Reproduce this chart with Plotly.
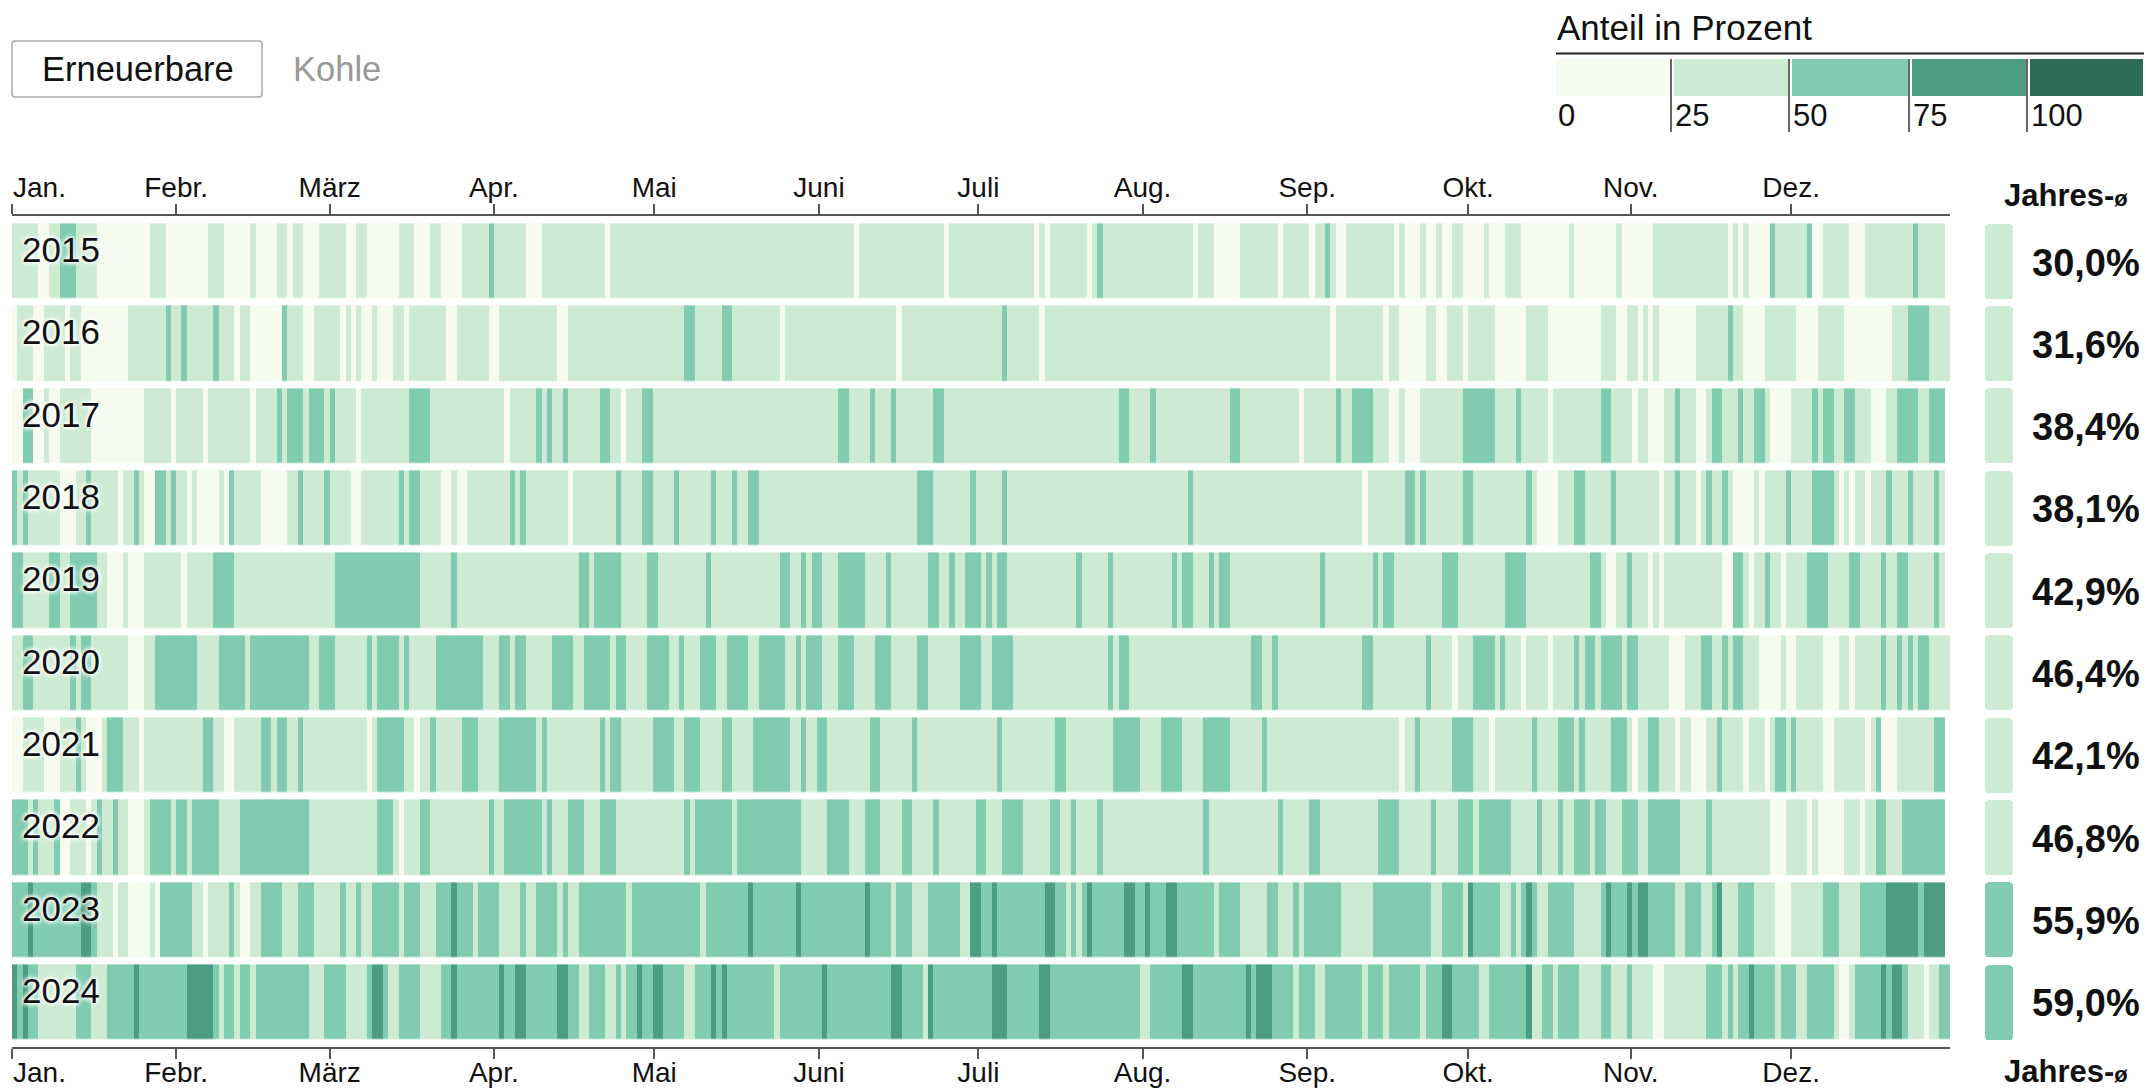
import plotly.graph_objects as go

W, H = 2146, 1089
FONT = "Liberation Sans"

years = ["2015", "2016", "2017", "2018", "2019", "2020", "2021", "2022", "2023", "2024"]
yearly_mean = [30.0, 31.6, 38.4, 38.1, 42.9, 46.4, 42.1, 46.8, 55.9, 59.0]
month_days = [0, 31, 60, 91, 121.3, 152.4, 182.5, 213.5, 244.6, 275, 305.7, 336]
month_labels = ["Jan.", "Febr.", "März", "Apr.", "Mai", "Juni", "Juli", "Aug.", "Sep.", "Okt.", "Nov.", "Dez."]
legend_labels = ["0", "25", "50", "75", "100"]
bucket_colors = ["#f6fbef", "#cdebd2", "#81ccb1", "#4d9c84", "#2d6a58"]

# (share bucket, last day of the run); bucket 0 = 0-25 %, 1 = 25-50 %, ...
y2015 = [(1,5),(0,7),(1,9),(2,12),(1,16),(0,26),(1,29),(0,37),(1,40),(0,45),(1,46),(0,50),(1,52),(0,53),(1,55),(0,58),(1,63),(0,65),(1,67),(0,73),(1,76),(0,79),(1,81),(0,85),(1,90),(2,91),(1,97),(0,100),(1,112),(0,113),(1,159),(0,160),(1,176),(0,177),(1,193),(0,194),(1,195),(0,196),(1,203),(0,204),(1,205),(2,206),(1,223),(0,224),(1,227),(0,232),(1,239),(0,240),(1,245),(0,246),(1,248),(2,249),(1,250),(0,252),(1,261),(0,262),(1,263),(0,266),(1,267),(0,269),(1,270),(0,272),(1,274),(0,278),(1,279),(0,282),(1,285),(0,294),(1,295),(0,303),(1,304),(0,310),(1,324),(0,325),(1,326),(0,327),(1,328),(0,332),(2,333),(1,339),(2,340),(0,342),(1,347),(0,350),(1,359),(2,360),(1,365)]
y2016 = [(0,1),(1,4),(0,6),(1,10),(0,11),(1,13),(0,22),(1,29),(2,30),(1,32),(2,33),(1,38),(2,39),(1,42),(0,43),(1,45),(0,51),(2,52),(1,55),(0,57),(1,62),(0,63),(1,64),(0,65),(1,66),(0,68),(1,69),(0,72),(1,74),(0,75),(1,82),(0,84),(1,90),(0,92),(1,103),(0,105),(1,127),(2,129),(1,134),(2,136),(1,145),(0,146),(1,167),(0,168),(1,187),(2,188),(1,194),(0,195),(1,249),(0,250),(1,259),(0,260),(1,262),(0,267),(1,269),(0,271),(1,274),(0,275),(1,280),(0,286),(1,290),(0,300),(1,303),(0,305),(1,307),(0,308),(1,309),(0,310),(1,311),(0,318),(1,324),(2,325),(1,327),(0,331),(1,337),(0,341),(1,346),(0,355),(1,358),(2,362),(1,366)]
y2017 = [(0,2),(2,4),(0,6),(1,7),(0,9),(1,15),(0,25),(1,30),(0,31),(1,36),(0,37),(1,45),(0,46),(1,50),(2,51),(1,52),(2,55),(1,56),(2,59),(1,60),(2,61),(1,65),(0,66),(1,75),(2,79),(1,93),(0,94),(1,99),(2,100),(1,101),(2,102),(1,104),(2,105),(1,111),(2,113),(1,115),(0,116),(1,119),(2,121),(1,156),(2,158),(1,162),(2,163),(1,166),(2,167),(1,174),(2,176),(1,209),(2,211),(1,215),(2,216),(1,230),(2,232),(1,243),(0,244),(1,250),(2,251),(1,253),(2,257),(1,260),(0,262),(1,263),(0,266),(1,274),(2,280),(1,284),(2,285),(1,290),(0,291),(1,300),(2,302),(1,306),(0,307),(1,309),(0,312),(1,314),(2,315),(1,318),(0,320),(1,321),(2,323),(1,326),(2,327),(1,329),(2,331),(1,332),(0,336),(1,340),(2,341),(1,342),(2,344),(1,346),(2,348),(1,351),(0,354),(1,356),(2,360),(1,362),(2,365)]
y2018 = [(2,1),(1,2),(2,3),(1,9),(0,12),(1,14),(2,15),(1,20),(0,21),(1,23),(2,24),(1,25),(0,27),(2,29),(1,30),(2,31),(1,33),(0,34),(1,35),(0,39),(1,40),(0,41),(2,42),(1,47),(0,52),(1,54),(2,55),(1,59),(2,60),(1,64),(0,66),(1,73),(2,74),(1,75),(2,77),(1,81),(0,83),(1,84),(0,86),(1,94),(2,95),(1,96),(2,97),(1,105),(0,106),(1,114),(2,115),(1,119),(2,121),(1,125),(2,126),(1,132),(2,133),(1,136),(2,137),(1,139),(2,141),(1,171),(2,174),(1,181),(2,182),(1,187),(2,188),(1,222),(2,223),(1,255),(0,256),(1,263),(2,265),(1,266),(2,267),(1,274),(2,276),(1,286),(2,287),(1,288),(0,292),(1,295),(2,297),(1,302),(2,303),(1,311),(0,312),(1,314),(2,315),(1,318),(0,319),(1,320),(2,321),(1,323),(2,324),(1,325),(0,329),(1,330),(0,331),(1,335),(2,336),(1,340),(2,344),(1,345),(0,346),(1,347),(0,348),(1,350),(0,351),(1,354),(2,355),(1,358),(2,359),(1,363),(2,364),(1,365)]
y2019 = [(2,2),(1,7),(2,9),(1,11),(2,16),(1,18),(0,21),(1,22),(0,25),(1,32),(0,33),(1,38),(2,42),(1,61),(2,77),(1,83),(2,84),(1,107),(2,109),(1,110),(2,115),(1,120),(2,122),(1,131),(2,132),(1,145),(2,147),(1,149),(2,150),(1,151),(2,153),(1,156),(2,161),(1,165),(2,166),(1,173),(2,175),(1,177),(2,178),(1,180),(2,183),(1,184),(2,185),(1,186),(2,188),(1,201),(2,202),(1,207),(2,208),(1,219),(2,220),(1,221),(2,223),(1,226),(2,227),(1,228),(2,230),(1,247),(2,248),(1,257),(2,258),(1,259),(2,261),(1,270),(2,273),(1,282),(2,286),(1,298),(2,300),(1,301),(0,303),(1,305),(2,306),(1,309),(0,310),(1,311),(0,312),(1,323),(0,325),(2,327),(1,328),(0,329),(1,331),(2,332),(1,334),(0,335),(1,339),(2,343),(1,347),(2,349),(1,353),(2,354),(1,356),(2,358),(1,363),(2,364),(1,365)]
y2020 = [(1,2),(2,4),(1,11),(2,12),(1,13),(2,15),(1,22),(0,25),(1,27),(2,35),(1,39),(2,44),(1,45),(2,56),(1,58),(2,61),(1,67),(2,68),(1,69),(2,73),(1,74),(2,75),(1,80),(2,89),(1,92),(2,94),(1,95),(2,97),(1,102),(2,106),(1,108),(2,113),(1,114),(2,116),(1,120),(2,124),(1,126),(2,127),(1,130),(2,133),(1,135),(2,139),(1,141),(2,146),(1,148),(2,149),(1,150),(2,153),(1,156),(2,159),(1,163),(2,166),(1,171),(2,173),(1,179),(2,183),(1,185),(2,189),(1,207),(2,208),(1,209),(2,211),(1,234),(2,236),(1,238),(2,239),(1,255),(2,257),(1,267),(2,268),(1,272),(0,273),(1,276),(2,280),(1,281),(2,282),(1,285),(0,286),(1,290),(0,291),(1,295),(2,296),(1,297),(2,299),(1,300),(2,304),(1,305),(2,307),(1,313),(0,316),(1,319),(2,321),(1,323),(2,324),(1,325),(2,327),(1,330),(0,334),(1,335),(0,337),(1,342),(0,345),(1,347),(0,348),(1,353),(2,354),(1,356),(2,357),(1,358),(2,359),(1,360),(2,362),(1,366)]
y2021 = [(0,2),(1,6),(0,9),(1,12),(2,13),(1,14),(0,17),(1,18),(2,21),(1,24),(0,25),(1,36),(2,38),(1,40),(0,42),(1,47),(2,49),(1,50),(2,52),(1,54),(2,55),(1,67),(0,68),(1,69),(2,74),(1,76),(0,77),(1,79),(2,80),(1,85),(2,88),(1,92),(2,99),(1,100),(2,101),(1,111),(2,112),(1,113),(2,115),(1,121),(2,125),(1,127),(2,130),(1,134),(2,136),(1,140),(2,147),(1,149),(2,150),(1,152),(2,154),(1,162),(2,164),(1,170),(2,171),(1,186),(2,187),(1,197),(2,199),(1,208),(2,213),(1,217),(2,221),(1,225),(2,230),(1,236),(2,237),(1,262),(0,263),(1,265),(2,266),(1,272),(2,276),(1,279),(0,280),(1,287),(2,288),(1,292),(2,295),(1,296),(2,297),(1,302),(2,305),(1,306),(0,307),(1,309),(2,311),(1,314),(0,315),(1,317),(0,320),(1,322),(2,323),(1,327),(0,328),(1,331),(0,332),(1,333),(2,335),(1,336),(2,337),(1,342),(0,344),(1,350),(0,351),(1,352),(2,353),(0,356),(1,363),(2,365)]
y2022 = [(2,3),(1,4),(2,5),(1,8),(2,9),(0,11),(1,14),(0,15),(1,16),(2,17),(1,19),(2,20),(1,22),(0,25),(1,26),(2,30),(1,31),(2,33),(1,34),(2,39),(1,43),(2,56),(1,69),(2,72),(1,73),(0,74),(1,77),(2,79),(1,90),(2,91),(1,93),(2,100),(1,101),(2,102),(1,105),(2,108),(1,111),(2,114),(1,127),(2,128),(1,129),(2,136),(1,137),(2,149),(1,154),(2,158),(1,161),(2,164),(1,168),(2,170),(1,174),(2,175),(1,182),(2,184),(1,187),(2,191),(1,196),(2,198),(1,200),(2,201),(1,205),(2,206),(1,225),(2,226),(1,239),(2,240),(1,245),(2,247),(1,258),(2,262),(1,268),(2,269),(1,273),(2,276),(1,277),(2,283),(1,288),(2,289),(1,292),(2,293),(1,295),(2,298),(1,299),(2,301),(1,304),(2,307),(1,309),(2,315),(1,320),(2,321),(1,332),(0,335),(1,339),(0,340),(1,341),(0,346),(1,349),(0,350),(1,352),(2,354),(1,357),(2,365)]
y2023 = [(2,3),(3,4),(2,13),(3,15),(2,16),(1,19),(0,20),(1,22),(0,26),(1,27),(0,28),(2,34),(1,36),(0,37),(1,41),(2,42),(1,43),(0,45),(1,47),(2,51),(1,54),(2,57),(1,62),(2,63),(1,65),(2,66),(1,68),(2,73),(1,74),(2,77),(1,80),(2,83),(3,84),(2,87),(1,88),(2,92),(1,96),(2,97),(1,99),(2,103),(1,104),(2,105),(1,107),(2,116),(1,117),(2,130),(1,131),(2,139),(3,140),(2,148),(3,149),(2,161),(3,162),(2,166),(1,167),(2,170),(1,173),(2,179),(1,181),(3,183),(2,185),(3,186),(2,195),(3,197),(2,199),(1,200),(2,201),(1,202),(2,203),(3,204),(2,210),(3,212),(2,214),(3,215),(2,218),(3,220),(2,227),(1,228),(2,232),(1,237),(2,239),(1,242),(2,243),(1,244),(2,251),(1,257),(2,268),(1,270),(2,274),(1,275),(3,276),(2,281),(1,283),(2,284),(1,285),(2,286),(3,287),(2,288),(1,290),(2,295),(1,300),(2,301),(3,302),(2,305),(3,306),(2,307),(3,309),(2,314),(1,316),(2,319),(1,321),(2,322),(3,323),(1,326),(2,329),(1,333),(0,336),(1,342),(2,345),(1,349),(2,354),(3,360),(2,361),(3,365)]
y2024 = [(3,1),(2,2),(3,3),(2,5),(1,12),(2,15),(1,18),(2,23),(3,24),(2,33),(3,38),(2,39),(1,40),(2,42),(1,43),(2,45),(1,46),(2,56),(1,59),(2,63),(1,67),(2,68),(3,70),(2,71),(1,73),(2,77),(1,81),(2,83),(3,84),(2,92),(3,93),(2,95),(3,97),(2,103),(3,105),(2,107),(1,109),(2,112),(1,114),(2,115),(1,116),(2,118),(3,119),(2,121),(3,123),(2,127),(1,129),(2,132),(3,133),(2,134),(3,135),(2,144),(1,145),(2,153),(3,154),(2,166),(3,168),(2,172),(1,173),(3,174),(2,185),(3,188),(2,194),(3,196),(2,213),(1,215),(2,221),(3,223),(2,233),(3,234),(2,235),(3,238),(2,242),(1,243),(2,246),(1,248),(2,255),(1,256),(2,259),(1,260),(2,266),(1,267),(2,270),(3,272),(2,277),(1,279),(2,286),(3,287),(1,289),(2,291),(1,292),(2,296),(1,300),(2,302),(1,305),(2,306),(1,310),(0,312),(1,320),(2,323),(1,324),(2,325),(1,326),(2,328),(3,329),(2,333),(1,334),(2,337),(1,339),(2,344),(1,345),(0,347),(1,348),(2,353),(3,354),(2,355),(3,357),(2,358),(1,361),(0,362),(1,364),(2,366)]
runs_by_year = [y2015, y2016, y2017, y2018, y2019, y2020, y2021, y2022, y2023, y2024]


def days_from_runs(runs):
    row = [None] * 366
    start = 0
    for bucket, end in runs:
        for d in range(start, end):
            row[d] = bucket
        start = end
    return row


def px(x):
    return x / W


def py(y):
    return 1 - y / H


z = [days_from_runs(r) for r in runs_by_year]
day_centers = [d + 0.5 for d in range(366)]
steps = []
for i, c in enumerate(bucket_colors):
    steps += [[i / 5, c], [(i + 1) / 5, c]]
mean_colors = [bucket_colors[int(v // 25)] for v in yearly_mean]

ROW_TOP, ROW_PITCH, ROW_H = 224, 82.33, 75
top = ROW_TOP - (ROW_PITCH - ROW_H) / 2
bottom = top + 10 * ROW_PITCH
X0, X1 = 12, 1950
AX = dict(domain=[px(X0), px(X1)], range=[0, 366], anchor="free", tickmode="array",
          tickvals=month_days, ticktext=[""] + month_labels[1:], ticks="outside", ticklen=10,
          tickwidth=2, tickcolor="#555", showline=True, linecolor="#555", linewidth=2,
          showgrid=False, zeroline=False, tickfont=dict(family=FONT, size=28, color="#111"))

fig = go.Figure()
fig.add_trace(go.Heatmap(z=z, x=day_centers, y=years, colorscale=steps, zmin=-0.5, zmax=4.5,
                         showscale=False, ygap=ROW_PITCH - ROW_H, hoverongaps=False,
                         xaxis="x", yaxis="y"))
fig.add_trace(go.Scatter(x=[None], y=[None], xaxis="x3", yaxis="y", showlegend=False))
fig.add_trace(go.Bar(x=[1] * 10, y=years, orientation="h", base=0, width=ROW_H / ROW_PITCH,
                     marker=dict(color=mean_colors, cornerradius=4, line_width=0),
                     xaxis="x2", yaxis="y", showlegend=False))

annotations = []


def label(text, x, y, size, color="#111", anchor="left", bold=False, **kw):
    annotations.append(dict(text=f"<b>{text}</b>" if bold else text, x=px(x), y=py(y), xref="paper",
                            yref="paper", xanchor=anchor, yanchor="middle", showarrow=False,
                            font=dict(family=FONT, size=size, color=color, **kw)))


label("Erneuerbare", 40, 69, 34.5)
label("Kohle", 291, 69, 34.5, color="#999")
label("Anteil in Prozent", 1555, 28, 35)
label(month_labels[0], 11, 187, 28)
label(month_labels[0], 11, 1072, 28)
label("Jahres-<span style='font-size:22px'>ø</span>", 2130, 195, 31, anchor="right", bold=True)
label("Jahres-<span style='font-size:22px'>ø</span>", 2130, 1071, 31, anchor="right", bold=True)
for i, (yr, v) in enumerate(zip(years, yearly_mean)):
    yc = ROW_TOP + ROW_H / 2 + i * ROW_PITCH
    label(yr, 20, yc - 12, 35, shadow="0 0 3px #fff, 0 0 4px #fff, 0 0 5px #fff, 0 0 6px #fff")
    label(f"{v:.1f}%".replace(".", ","), 2142, yc + 1, 38, anchor="right", bold=True)

edges = [1556, 1671, 1789, 1909, 2027, 2144]
for i, name in enumerate(legend_labels):
    label(name, edges[i] + (2 if i else 0), 115, 31)

shapes = [dict(type="path", xref="paper", yref="paper", line=dict(color="#aaa", width=1.5), fillcolor="white",
               path=(f"M {px(15)} {py(41)} L {px(259)} {py(41)} Q {px(262)} {py(41)} {px(262)} {py(44)} "
                     f"L {px(262)} {py(94)} Q {px(262)} {py(97)} {px(259)} {py(97)} "
                     f"L {px(15)} {py(97)} Q {px(12)} {py(97)} {px(12)} {py(94)} "
                     f"L {px(12)} {py(44)} Q {px(12)} {py(41)} {px(15)} {py(41)} Z")),
          dict(type="line", xref="paper", yref="paper", x0=px(1556), x1=px(2144), y0=py(53.5), y1=py(53.5),
               line=dict(color="#222", width=2))]
for i, c in enumerate(bucket_colors):
    shapes.append(dict(type="rect", xref="paper", yref="paper", x0=px(edges[i] + (3 if i else 0)),
                       x1=px(edges[i + 1] - 1), y0=py(59), y1=py(96), fillcolor=c, line_width=0))
for e in edges[1:5]:
    shapes.append(dict(type="line", xref="paper", yref="paper", x0=px(e), x1=px(e), y0=py(59), y1=py(132),
                       line=dict(color="#333", width=1.5)))

fig.update_layout(
    width=W, height=H, margin=dict(l=0, r=0, t=0, b=0, autoexpand=False), paper_bgcolor="white",
    plot_bgcolor="white", showlegend=False, bargap=0, annotations=annotations, shapes=shapes,
    xaxis=dict(AX, side="bottom", position=py(1048), ticklabelstandoff=-11),
    xaxis3=dict(AX, side="top", position=py(215), overlaying="x", ticklabelstandoff=-4),
    xaxis2=dict(domain=[px(1985), px(2013)], range=[0, 1], visible=False, anchor="y"),
    yaxis=dict(domain=[py(bottom), py(top)], range=[9.5, -0.5], type="category", visible=False, anchor="x"),
)
fig.write_html("out.html", config=dict(displayModeBar=False), post_script="document.body.style.margin='0';")
